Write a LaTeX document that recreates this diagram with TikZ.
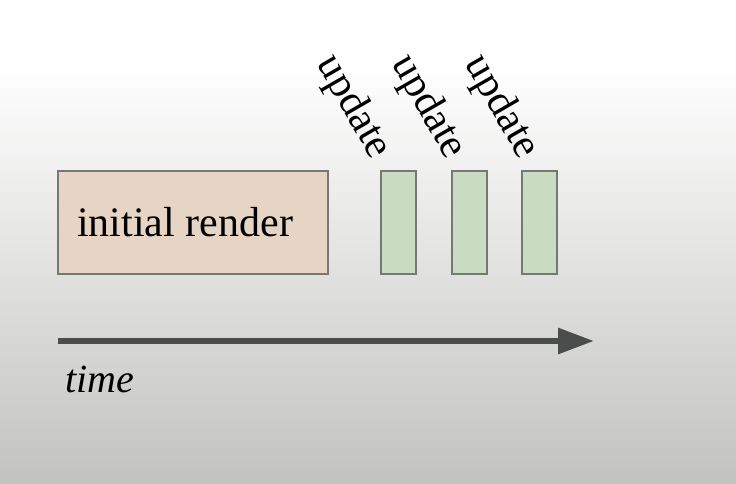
\documentclass[tikz,border=0pt]{standalone}
\usepackage{fontspec}
\setmainfont{Liberation Serif}
\usetikzlibrary{arrows.meta}
\definecolor{bgbot}{RGB}{194,195,192}
\definecolor{renderfill}{RGB}{230,213,196}
\definecolor{updfill}{RGB}{201,219,192}
\definecolor{boxline}{RGB}{118,120,117}
\definecolor{arrowcol}{RGB}{74,77,75}
\pgfdeclareverticalshading{bgshade}{100bp}{color(0bp)=(bgbot); color(25bp)=(bgbot); color(68.5bp)=(white); color(100bp)=(white)}
\tikzset{
  renderbox/.style={draw=boxline, line width=1.8pt, fill=renderfill, minimum width=270pt, minimum height=103pt, inner sep=0pt},
  updbox/.style={draw=boxline, line width=1.8pt, fill=updfill, minimum width=35pt, minimum height=103pt, inner sep=0pt},
  updlabel/.style={rotate=-60, anchor=east, inner sep=0pt, font=\fontsize{42}{50}\selectfont},
  bigtext/.style={font=\fontsize{42}{50}\selectfont, inner sep=0pt},
}
\begin{document}
\begin{tikzpicture}[x=1pt,y=-1pt]
\useasboundingbox (0,0) rectangle (736,484);
\shade[shading=bgshade] (0,0) rectangle (736,484);
\node[renderbox] (render) at (193,222.5) {};
\node[bigtext, anchor=west] (rendertext) at (77,222.5) {initial render};
\node[updbox] (u1) at (398.5,222.5) {};
\node[updbox] (u2) at (469.5,222.5) {};
\node[updbox] (u3) at (539.5,222.5) {};
\node[updlabel] (l1) at (381,156) {update};
\node[updlabel] (l2) at (456,156) {update};
\node[updlabel] (l3) at (529,156) {update};
\coordinate (tstart) at (58,341);
\coordinate (tend) at (594,341);
\draw[arrowcol, line width=6pt, -{Triangle[length=36pt, width=25pt]}] (tstart) -- (tend);
\node[bigtext, font=\fontsize{40}{48}\selectfont\itshape, anchor=west] (time) at (65,379) {time};
\end{tikzpicture}
\end{document}
